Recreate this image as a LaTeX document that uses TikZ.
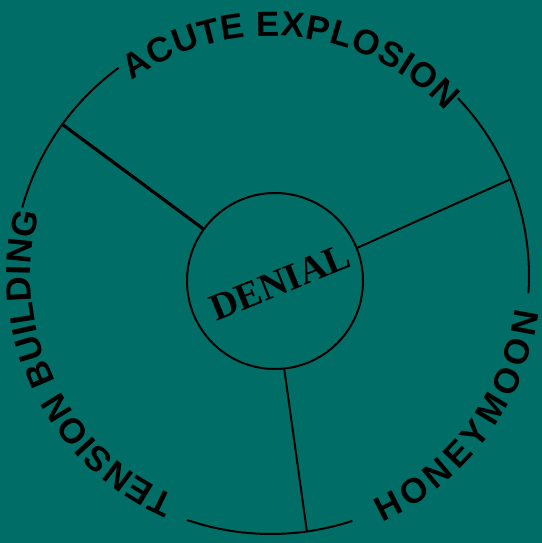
\documentclass[tikz,border=0pt]{standalone}
\usepackage{fontspec}
\setmainfont{Liberation Serif}
\setsansfont{Liberation Sans}
\usetikzlibrary{decorations.text}

\definecolor{cycleteal}{RGB}{0,110,102}
\newcommand{\ringfont}{\sffamily\bfseries\fontsize{17.5}{17.5}\selectfont}

\begin{document}
\begin{tikzpicture}[x=0.5pt, y=0.5pt, line width=1pt,
  ring/.style={decorate, decoration={text along path, text align=fit to path, text={|\ringfont|#1}}}]

% background, fixes the margins too
\fill[cycleteal] (-271,-267) rectangle (271,276);

% the inner circle with its label
\node[circle, draw, minimum size=88pt, inner sep=0pt] (denial) at (4,-5) {};
\node[rotate=22, font=\bfseries\fontsize{19}{19}\selectfont] (denialtext) at (9,-6) {DENIAL};

% outer ring, broken where the names of the phases stand
\draw (43.6:258) arc[start angle=43.6, end angle=-3.8, radius=258];
\draw (-71.6:258) arc[start angle=-71.6, end angle=-109, radius=258];
\draw (164.6:258) arc[start angle=164.6, end angle=126.2, radius=258];

% phase names along the ring
\path[ring={ACUTE EXPLOSION}] (125.4:240) arc[start angle=125.4, end angle=43.4, radius=240];
\path[ring={HONEYMOON}] (-65.7:270) arc[start angle=-65.7, end angle=-7.9, radius=270];
\path[ring={TENSION BUILDING}] (246.6:240) arc[start angle=246.6, end angle=164.7, radius=240];

% spokes from the inner circle out to the ring
\coordinate (explosion) at (144:258);
\coordinate (honeymoon) at (22:258);
\coordinate (tension) at (-82:258);
\draw[line width=1.6pt] (denial.144) -- (explosion);
\draw (denial.22) -- (honeymoon);
\draw (denial.-84) -- (tension);

\end{tikzpicture}
\end{document}
